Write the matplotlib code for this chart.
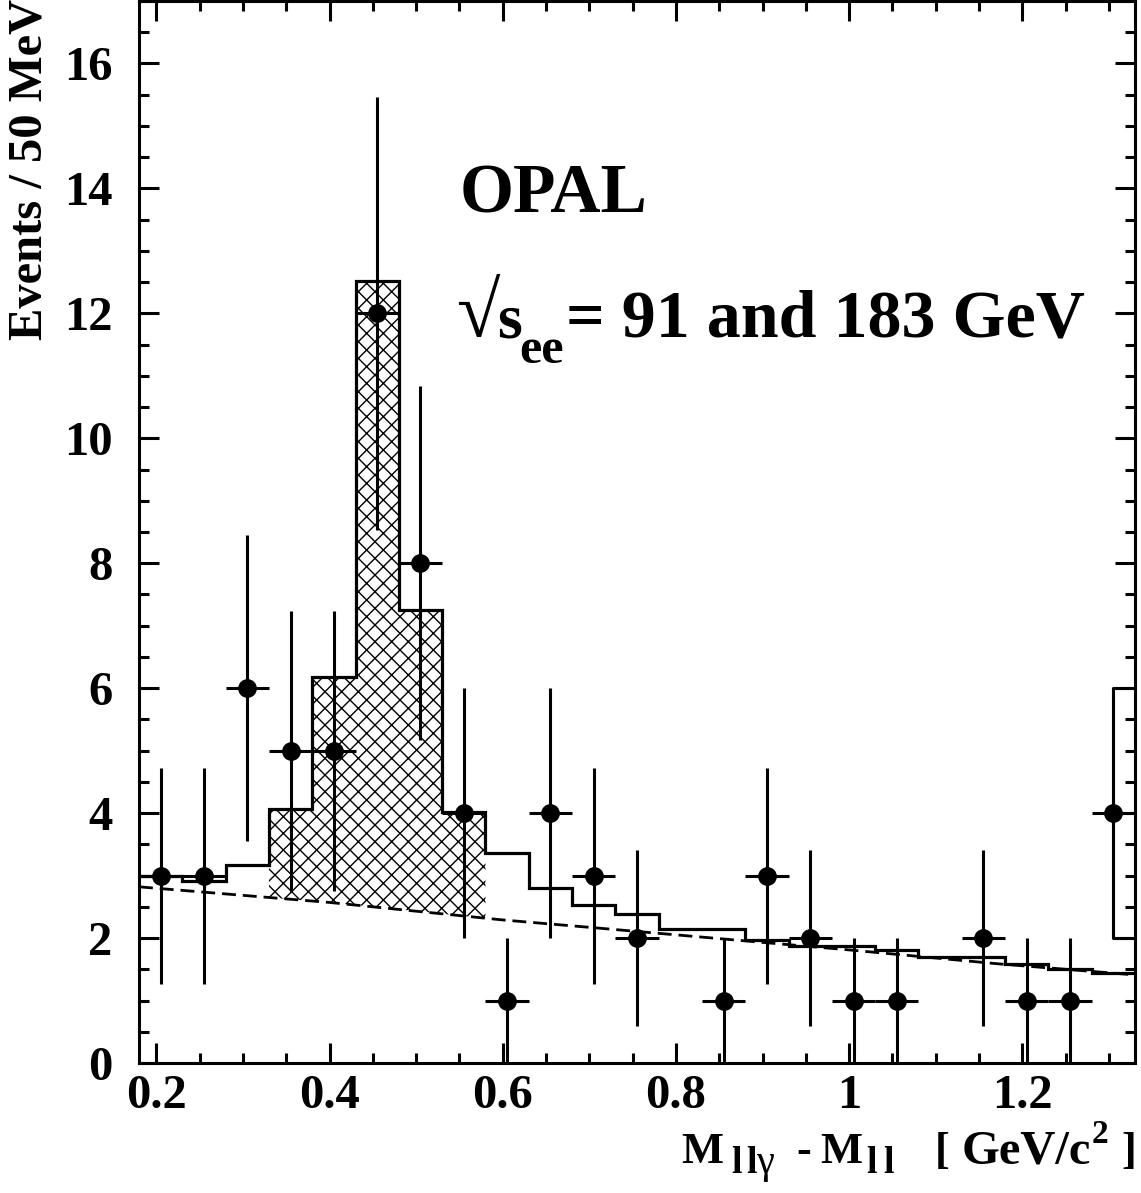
import numpy as np
import matplotlib

matplotlib.use("Agg")
import matplotlib.pyplot as plt
from matplotlib.ticker import MultipleLocator

# bin edges (50 MeV bins) and data counts
bin_edges = np.round(np.arange(0.18, 1.3301, 0.05), 3)
data_counts = [3, 3, 6, 5, 5, 12, 8, 4, 1, 4, 3, 2, 0, 1, 3, 2, 1, 1, 0, 2, 1, 1, 4]
data_errors = [1.73, 1.73, 2.45, 2.24, 2.24, 3.46, 2.83, 2.0, 1.0, 2.0, 1.73, 1.41,
               0.0, 1.0, 1.73, 1.41, 1.0, 1.0, 0.0, 1.41, 1.0, 1.0, 2.0]

# total expectation histogram
mc_total = [3.0, 2.91, 3.17, 4.06, 6.18, 12.51, 7.25, 4.02, 3.36, 2.80, 2.53, 2.39,
            2.15, 2.15, 1.97, 1.87, 1.87, 1.81, 1.69, 1.69, 1.58, 1.50, 1.44]

# background shape (dashed curve)
bg_x = [0.18, 0.40, 0.60, 0.71, 1.00, 1.17, 1.33]
bg_y = [2.82, 2.57, 2.29, 2.16, 1.81, 1.59, 1.41]

# signal region (hatched)
sig_lo, sig_hi = 0.33, 0.58

# bracket drawn in the last bin
bracket_x = [1.33, 1.305, 1.305, 1.33]
bracket_y = [6.0, 6.0, 2.0, 2.0]

plt.rcParams["font.family"] = ["Liberation Serif", "DejaVu Serif"]
plt.rcParams["font.weight"] = "bold"
plt.rcParams["hatch.linewidth"] = 1.0

W, H = 1141, 1193
fig = plt.figure(figsize=(W / 100, H / 100), dpi=100)
ax = fig.add_axes([139 / W, 1 - 1063 / H, (1135 - 139) / W, (1063 - 1) / H])

centers = 0.5 * (bin_edges[:-1] + bin_edges[1:])
counts = np.array(data_counts, dtype=float)
errs = np.array(data_errors)
keep = counts > 0

# hatched signal contribution between background and total
mc = np.array(mc_total)
in_sig = (bin_edges[:-1] >= sig_lo - 1e-9) & (bin_edges[1:] <= sig_hi + 1e-9)
top_x, top_y = [], []
for lo, hi, v in zip(bin_edges[:-1][in_sig], bin_edges[1:][in_sig], mc[in_sig]):
    top_x += [lo, hi]
    top_y += [v, v]
bot_x = np.linspace(sig_hi, sig_lo, 20)
bot_y = np.interp(bot_x, bg_x, bg_y)
ax.fill(top_x + list(bot_x), top_y + list(bot_y), facecolor="white",
        edgecolor="black", hatch="xx", linewidth=0, zorder=1)

ax.stairs(mc, bin_edges, baseline=None, color="black", linewidth=2.3, zorder=3)
ax.plot(bg_x, bg_y, color="black", linestyle=(0, (5, 2.5)), linewidth=2.0, zorder=2)

ax.errorbar(centers[keep], counts[keep], yerr=errs[keep], xerr=0.025, fmt="o",
            color="black", markersize=12.5, elinewidth=2.2, capsize=0, zorder=4)
ax.plot(bracket_x, bracket_y, color="black", linewidth=2.2, zorder=4)

ax.set_xlim(0.18, 1.33)
ax.set_ylim(0, 17)
ax.xaxis.set_major_locator(MultipleLocator(0.2))
ax.xaxis.set_minor_locator(MultipleLocator(0.05))
ax.yaxis.set_major_locator(MultipleLocator(2))
ax.yaxis.set_minor_locator(MultipleLocator(0.5))
ax.xaxis.set_major_formatter(matplotlib.ticker.FuncFormatter(lambda v, p: f"{v:g}"))
ax.tick_params(which="both", direction="in", top=True, right=True, width=2.2,
               labelsize=35)
ax.tick_params(which="major", length=14.4)
ax.tick_params(which="minor", length=7.2)
ax.tick_params(axis="y", pad=19)
ax.tick_params(axis="x", pad=8)
for s in ax.spines.values():
    s.set_linewidth(2.2)


def put(x_px, base_px, txt, size, weight="bold"):
    fig.text(x_px / W, 1 - base_px / H, txt, ha="left", va="baseline",
             fontsize=size, fontweight=weight)


fig.text(30 / W, 1 - 340 / H, "Events / 50 MeV", rotation=90, ha="center",
         va="bottom", fontsize=35, fontweight="bold")

# x axis title, assembled piece by piece like the original
put(681, 1163, "M", 32)
put(731, 1173, "l", 27)
put(746, 1173, "l", 27)
put(757, 1173, "γ", 29, weight="normal")
put(796, 1163, "-", 32)
put(820, 1163, "M", 32)
put(866, 1173, "l", 27)
put(883, 1173, "l", 27)
put(935, 1163, "[", 32)
put(962, 1163, "GeV/c", 35)
put(1092, 1143, "2", 24)
put(1121, 1163, "]", 32)

# labels inside the frame
put(460, 212, "OPAL", 50)
put(456, 336, "√", 57, weight="normal")
put(497, 337, "s", 46)
put(519, 363, "ee", 36)
put(566, 337, "= 91 and 183 GeV", 49)

fig.savefig("out.png", dpi=100)
